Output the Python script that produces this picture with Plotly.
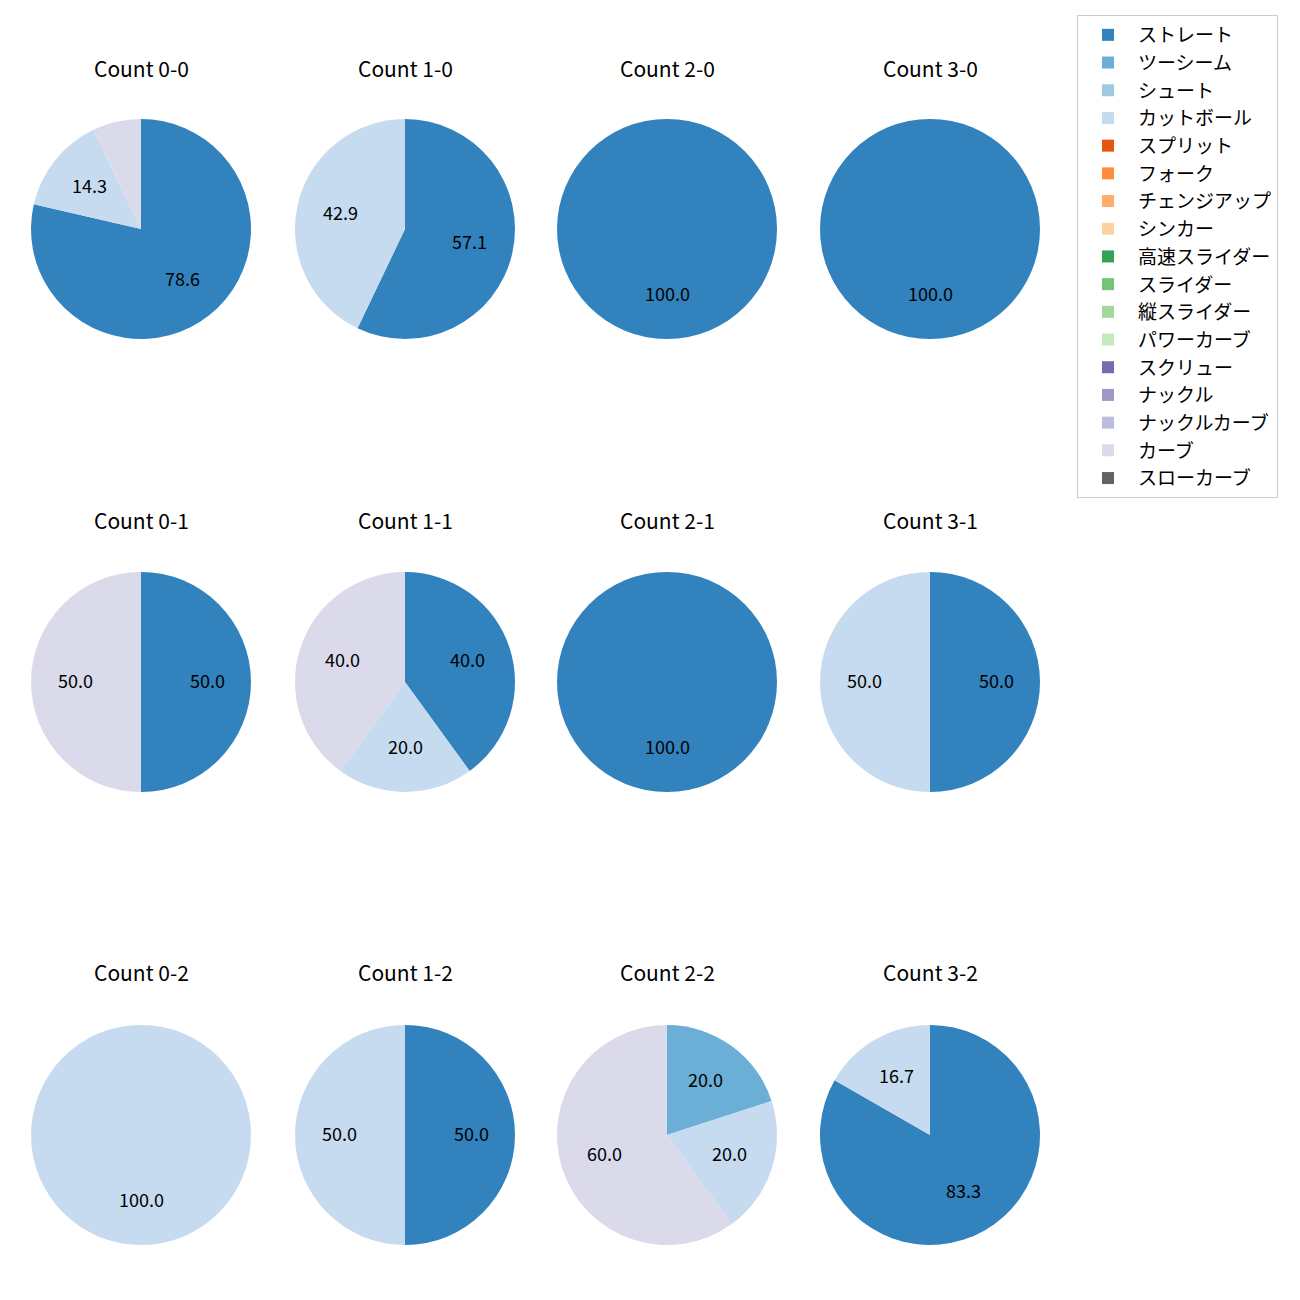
import plotly.graph_objects as go
import math

pitch_types = ["ストレート", "ツーシーム", "シュート", "カットボール", "スプリット", "フォーク",
               "チェンジアップ", "シンカー", "高速スライダー", "スライダー", "縦スライダー",
               "パワーカーブ", "スクリュー", "ナックル", "ナックルカーブ", "カーブ", "スローカーブ"]
colors = ["#3182bd", "#6baed6", "#9ecae1", "#c6dbef", "#e6550d", "#fd8d3c", "#fdae6b", "#fdd0a2",
          "#31a354", "#74c476", "#a1d99b", "#c7e9c0", "#756bb1", "#9e9ac8", "#bcbddc", "#dadaeb", "#636363"]

counts = ["0-0", "1-0", "2-0", "3-0", "0-1", "1-1", "2-1", "3-1", "0-2", "1-2", "2-2", "3-2"]
# share (%) per pitch type for each count
straight = [78.6, 57.1, 100, 100, 50, 40, 100, 50, 0, 50, 0, 83.3]
two_seam = [0, 0, 0, 0, 0, 0, 0, 0, 0, 0, 20, 0]
cut_ball = [14.3, 42.9, 0, 0, 0, 20, 0, 50, 100, 50, 20, 16.7]
curve = [7.1, 0, 0, 0, 50, 40, 0, 0, 0, 0, 60, 0]

OFF = 8  # page body margin
col_cx = [141, 405, 667, 930]
row_cy = [229, 682, 1135]
title_y = [69, 521, 973]
R = 110
W = H = 1300
FONT = "Noto Sans CJK JP"


def px(x):
    return (x - OFF) / W


def py(y):
    return 1 - (y - OFF) / H


fig = go.Figure()
annotations = []
for i, cnt in enumerate(counts):
    r, c = divmod(i, 4)
    cx, cy = col_cx[c], row_cy[r]
    vals = [0.0] * len(pitch_types)
    vals[0] = straight[i]
    vals[1] = two_seam[i]
    vals[3] = cut_ball[i]
    vals[15] = curve[i]
    fig.add_trace(go.Pie(
        labels=pitch_types, values=vals, sort=False, direction="clockwise", rotation=0,
        marker=dict(colors=colors, line=dict(width=0)), textinfo="none",
        domain=dict(x=[px(cx - R), px(cx + R)], y=[py(cy + R), py(cy - R)]),
        showlegend=(i == 0), name="Count " + cnt,
    ))
    annotations.append(dict(text="Count " + cnt, x=px(cx), y=py(title_y[r] - 1), xref="paper", yref="paper",
                            showarrow=False, font=dict(size=21, color="#000", family=FONT),
                            xanchor="center", yanchor="middle"))
    total = sum(vals)
    cum = 0.0
    for v in vals:
        if v <= 0:
            continue
        mid = (cum + v / 2) / total * 2 * math.pi
        cum += v
        if v < 10:
            continue
        lx = cx + 0.6 * R * math.sin(mid)
        ly = cy - 0.6 * R * math.cos(mid) - 2.5
        annotations.append(dict(text=f"{v:.1f}", x=px(lx), y=py(ly), xref="paper", yref="paper",
                                showarrow=False, font=dict(size=18, color="#000", family=FONT),
                                xanchor="center", yanchor="middle"))

fig.update_layout(
    width=W, height=H, margin=dict(l=0, r=0, t=0, b=0),
    paper_bgcolor="white", plot_bgcolor="white",
    font=dict(family=FONT, color="#000"),
    annotations=annotations,
    legend=dict(x=px(1077), y=py(15), xanchor="left", yanchor="top",
                bordercolor="#cccccc", borderwidth=1, font=dict(size=19, family=FONT, color="#000"),
                traceorder="normal", itemwidth=50),
)
fig.write_html("out.html")
